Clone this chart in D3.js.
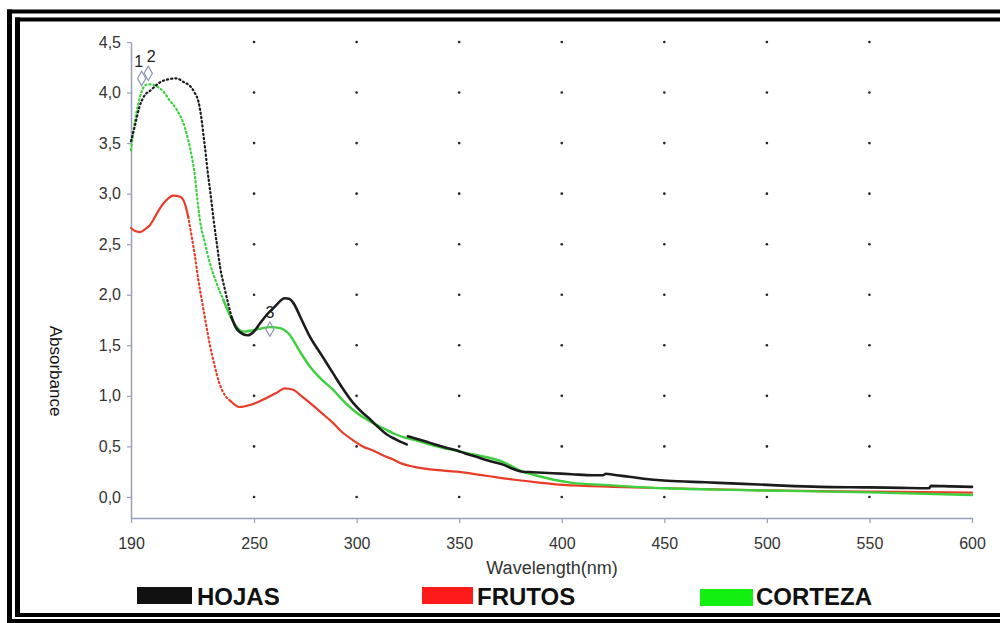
<!DOCTYPE html>
<html>
<head>
<meta charset="utf-8">
<script src="https://cdn.jsdelivr.net/npm/d3@7"></script>
<style>
  html, body { margin: 0; padding: 0; background: #ffffff; }
  svg { display: block; }
</style>
</head>
<body>
<svg id="chart" width="1000" height="623"></svg>
<script>
// ---------------- DATA ----------------
const wavelengthTicks = [190, 250, 300, 350, 400, 450, 500, 550, 600];
const absorbanceTicks = [0, 0.5, 1.0, 1.5, 2.0, 2.5, 3.0, 3.5, 4.0, 4.5];
const gridWavelengths = [250, 300, 350, 400, 450, 500, 550];

// HOJAS (leaves) – UV lamp part
const hojasUV = [
  [190, 3.52], [192, 3.68], [194, 3.85], [196, 3.95], [200, 4.03], [204, 4.10],
  [208, 4.13], [212, 4.14], [216, 4.10], [219, 4.06], [221, 4.00], [223, 3.90],
  [224.5, 3.72], [225.5, 3.55], [226.5, 3.38], [227.3, 3.23], [228.5, 3.04],
  [230.1, 2.77], [231.8, 2.51], [233.4, 2.28], [235.8, 2.05], [239, 1.78],
  [241, 1.68], [244.7, 1.61], [247, 1.60], [249.6, 1.63], [253, 1.72],
  [256.1, 1.80], [260, 1.88], [265, 1.965], [267, 1.96], [269.1, 1.92],
  [273, 1.76], [277.2, 1.585], [283, 1.40], [288.6, 1.22], [293, 1.08],
  [298.3, 0.93], [302, 0.85], [306.5, 0.77], [310, 0.70], [314.6, 0.62],
  [319, 0.57], [324.4, 0.52]
];
// HOJAS – visible lamp part
const hojasVis = [
  [325, 0.60], [330, 0.57], [335, 0.54], [340, 0.51], [345, 0.48], [349, 0.46],
  [353, 0.43], [358, 0.40], [364, 0.36], [371.4, 0.32], [376, 0.28], [380.7, 0.25],
  [386, 0.245], [395.6, 0.235], [405, 0.225], [415, 0.215], [420, 0.215], [421.6, 0.23],
  [425, 0.22], [432.8, 0.20], [440, 0.18], [451.5, 0.16], [470, 0.145],
  [488.7, 0.13], [505, 0.115], [525.9, 0.10], [550, 0.095], [565, 0.09],
  [579, 0.086], [580, 0.11], [590, 0.105], [600, 0.10]
];
// FRUTOS (fruits)
const frutos = [
  [190, 2.66], [192, 2.63], [194.4, 2.62], [197, 2.65], [199.3, 2.69], [202, 2.78],
  [204.1, 2.855], [207, 2.93], [210.6, 2.98], [213.9, 2.97], [216.3, 2.90],
  [217.9, 2.77], [219.6, 2.575], [221.2, 2.38], [222.8, 2.15], [224.5, 1.95],
  [226.5, 1.72], [228.5, 1.50], [230.5, 1.32], [233, 1.13], [236, 1.00],
  [238.5, 0.95], [243, 0.89], [248, 0.91], [252, 0.94], [256.1, 0.98],
  [261, 1.03], [265, 1.075], [269.1, 1.06], [273, 1.00], [277.2, 0.93],
  [283, 0.83], [288.6, 0.73], [293, 0.64], [298.3, 0.56], [303, 0.50],
  [308, 0.46], [313, 0.41], [317.8, 0.37], [322, 0.33], [327.6, 0.30],
  [337, 0.27], [349, 0.25], [363, 0.21], [377, 0.17], [390, 0.14], [401, 0.12],
  [425, 0.10], [451, 0.086], [500, 0.065], [550, 0.053], [600, 0.042]
];
// CORTEZA (bark)
const corteza = [
  [190, 3.43], [192, 3.73], [193.6, 3.89], [195.2, 4.01], [197.7, 4.08],
  [200, 4.08], [202.5, 4.06], [205.8, 4.01], [208.2, 3.94], [212.3, 3.83],
  [215.5, 3.70], [217.9, 3.53], [219.6, 3.37], [221.2, 3.17], [222.2, 2.97],
  [223.6, 2.74], [226.1, 2.51], [228.5, 2.31], [231.8, 2.11], [235, 1.95],
  [239.9, 1.73], [244.7, 1.635], [249.6, 1.65], [257.7, 1.68], [262.6, 1.67],
  [267.5, 1.60], [272, 1.45], [277.2, 1.29], [283, 1.16], [288.6, 1.06],
  [293, 0.96], [298.3, 0.86], [303, 0.79], [308, 0.73], [313, 0.68],
  [317.8, 0.63], [323, 0.59], [329, 0.56], [337, 0.51], [345.5, 0.47],
  [357, 0.42], [371, 0.35], [381, 0.25], [390, 0.20], [396, 0.17], [405, 0.14],
  [420, 0.12], [451, 0.086], [482, 0.07], [510, 0.06], [550, 0.045], [600, 0.02]
];
// peak-pick markers
const peakLabels = ["1", "2", "3"];
const peakWavelengths = [195.2, 198.4, 257.7];
const peakValues = [4.14, 4.19, 1.66];

const legendLabels = ["HOJAS", "FRUTOS", "CORTEZA"];

// ---------------- STYLE ----------------
const FONT = "'Liberation Sans', Arial, Helvetica, sans-serif";
const AXIS_COLOR = "#9a9dbf";
const TEXT_COLOR = "#333333";
const lineColors = { hojas: "#1c1c1c", frutos: "#ea3b28", corteza: "#3dcf3d" };
const legendColors = ["#111111", "#ff1a1a", "#11f011"];

const svg = d3.select("#chart");

const x = d3.scaleLinear().domain([190, 600]).range([131, 972]);
const y = d3.scaleLinear().domain([-0.208, 4.5]).range([518, 42]);

// --------- frame ---------
const frame = svg.append("g").attr("stroke", "#000").attr("fill", "none");
// outer
frame.append("line").attr("x1", 7).attr("x2", 1010).attr("y1", 11.5).attr("y2", 11.5).attr("stroke-width", 4);
frame.append("line").attr("x1", 9.5).attr("x2", 9.5).attr("y1", 9.5).attr("y2", 623).attr("stroke-width", 5);
frame.append("line").attr("x1", 7).attr("x2", 1010).attr("y1", 621).attr("y2", 621).attr("stroke-width", 4);
// inner
frame.append("line").attr("x1", 15).attr("x2", 1010).attr("y1", 19.5).attr("y2", 19.5).attr("stroke-width", 4);
frame.append("line").attr("x1", 17.5).attr("x2", 17.5).attr("y1", 17.5).attr("y2", 617).attr("stroke-width", 5);
frame.append("line").attr("x1", 15).attr("x2", 1010).attr("y1", 615).attr("y2", 615).attr("stroke-width", 4);

// --------- grid dots ---------
const gridPts = [];
gridWavelengths.forEach(w => absorbanceTicks.forEach(a => gridPts.push([w, a])));
svg.append("g").selectAll("circle").data(gridPts).join("circle")
  .attr("cx", d => x(d[0])).attr("cy", d => y(d[1])).attr("r", 1.3).attr("fill", "#222");

// --------- axes ---------
const fmt = d => d3.format(".1f")(d).replace(".", ",");
const yAxis = svg.append("g").attr("transform", `translate(${x(190)},0)`)
  .call(d3.axisLeft(y).tickValues(absorbanceTicks).tickFormat(fmt).tickSizeInner(4).tickSizeOuter(0).tickPadding(6));
const xAxis = svg.append("g").attr("transform", `translate(0,${y(-0.208)})`)
  .call(d3.axisBottom(x).tickValues(wavelengthTicks).tickFormat(d3.format("d")).tickSizeInner(5).tickSizeOuter(0).tickPadding(15));
[xAxis, yAxis].forEach(g => {
  g.select(".domain").attr("stroke", AXIS_COLOR).attr("stroke-width", 1.5);
  g.selectAll(".tick line").attr("stroke", AXIS_COLOR).attr("stroke-width", 1.2);
  g.selectAll(".tick text").attr("fill", TEXT_COLOR).attr("font-family", FONT).attr("font-size", 16);
});

// axis titles
svg.append("text").attr("x", 552).attr("y", 574).attr("text-anchor", "middle")
  .attr("font-family", FONT).attr("font-size", 18).attr("fill", TEXT_COLOR).text("Wavelength(nm)");
svg.append("text").attr("transform", "translate(50,371) rotate(90)").attr("text-anchor", "middle")
  .attr("font-family", FONT).attr("font-size", 17).attr("fill", "#111").text("Absorbance");

// --------- curves ---------
const line = d3.line().x(d => x(d[0])).y(d => y(d[1])).curve(d3.curveMonotoneX);
const part = (data, lo, hi) => data.filter(d => d[0] >= lo && d[0] <= hi);
const plot = svg.append("g").attr("fill", "none").attr("stroke-linecap", "round").attr("stroke-linejoin", "round");

function draw(data, color, width, dotted) {
  const p = plot.append("path").attr("d", line(data)).attr("stroke", color).attr("stroke-width", width);
  if (dotted) p.attr("stroke-dasharray", "1.2 3");
}
// FRUTOS
draw(part(frutos, 190, 217.9), lineColors.frutos, 2.2, false);
draw(part(frutos, 217.9, 238.5), lineColors.frutos, 2.2, true);
draw(part(frutos, 238.5, 600), lineColors.frutos, 2.2, false);
// CORTEZA
draw(part(corteza, 190, 235), lineColors.corteza, 2.2, true);
draw(part(corteza, 235, 600), lineColors.corteza, 2.4, false);
// HOJAS
draw(part(hojasUV, 190, 239), lineColors.hojas, 2.2, true);
draw(part(hojasUV, 239, 330), lineColors.hojas, 2.6, false);
draw(hojasVis, lineColors.hojas, 2.6, false);

// --------- peak markers ---------
const labelShift = [-3, 3, 0];
const mk = svg.append("g");
peakLabels.forEach((lab, i) => {
  const cx = x(peakWavelengths[i]), cy = y(peakValues[i]);
  mk.append("path").attr("d", d3.symbol(d3.symbolDiamond, 60)())
    .attr("transform", `translate(${cx},${cy})`)
    .attr("fill", "none").attr("stroke", "#8d9ab3").attr("stroke-width", 1.2);
  mk.append("text").attr("x", cx + labelShift[i]).attr("y", cy - 11).attr("text-anchor", "middle")
    .attr("font-family", FONT).attr("font-size", 16).attr("fill", "#222").text(lab);
});

// --------- legend ---------
const legendSwatchX = [137, 422, 700];
const legendSwatchW = [55, 51, 53];
const legendTextX = [197, 477, 756];
const lg = svg.append("g");
legendLabels.forEach((lab, i) => {
  lg.append("rect").attr("x", legendSwatchX[i]).attr("y", 587 + (i === 2 ? 2 : 0))
    .attr("width", legendSwatchW[i]).attr("height", 17).attr("fill", legendColors[i]);
  lg.append("text").attr("x", legendTextX[i]).attr("y", 605)
    .attr("font-family", FONT).attr("font-weight", "bold").attr("font-size", 24)
    .attr("fill", "#111").text(lab);
});
</script>
</body>
</html>
